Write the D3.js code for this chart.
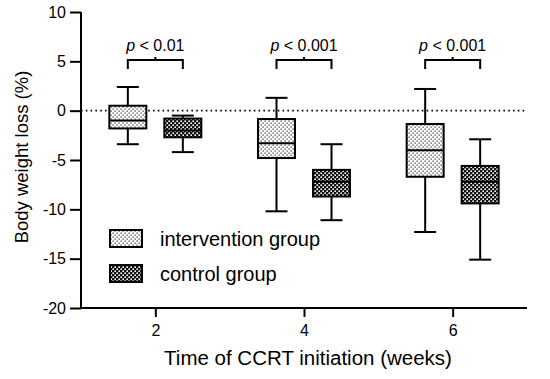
<!DOCTYPE html>
<html>
<head>
<meta charset="utf-8">
<script src="https://cdn.jsdelivr.net/npm/d3@7"></script>
<style>
  body { margin: 0; background: #fff; }
  svg { display: block; font-family: Arial, "Liberation Sans", sans-serif; }
</style>
</head>
<body>
<svg id="chart" width="550" height="379"></svg>
<script>
// ---- data ----
const weeks = [2, 4, 6];
const groups = ["intervention group", "control group"];
// [whiskerLow, Q1, median, Q3, whiskerHigh]
const interventionStats = [
  [-3.4, -1.8, -1.0, 0.5, 2.4],
  [-10.2, -4.8, -3.3, -0.85, 1.3],
  [-12.3, -6.7, -4.0, -1.35, 2.2]
];
const controlStats = [
  [-4.2, -2.7, -2.0, -0.8, -0.5],
  [-11.1, -8.7, -7.2, -6.0, -3.4],
  [-15.1, -9.4, -7.2, -5.6, -2.9]
];
const pLabels = ["< 0.01", "< 0.001", "< 0.001"];
const yTicks = [10, 5, 0, -5, -10, -15, -20];
const xTicks = [2, 4, 6];

// ---- layout ----
const svg = d3.select("#chart");
const x = d3.scaleLinear().domain([1, 7]).range([81, 527]);
const y = d3.scaleLinear().domain([-20, 10]).range([308, 12]);
const offset = 27.5, boxW = 37, capW = 11;

// patterns
const defs = svg.append("defs");
const p1 = defs.append("pattern").attr("id", "dots").attr("patternUnits", "userSpaceOnUse")
  .attr("width", 4).attr("height", 4);
p1.append("rect").attr("width", 4).attr("height", 4).attr("fill", "#fff");
p1.append("rect").attr("x", 0.5).attr("y", 0.5).attr("width", 1.2).attr("height", 1.2).attr("fill", "#222");
p1.append("rect").attr("x", 2.5).attr("y", 2.5).attr("width", 1.2).attr("height", 1.2).attr("fill", "#222");

const p2 = defs.append("pattern").attr("id", "checks").attr("patternUnits", "userSpaceOnUse")
  .attr("width", 4).attr("height", 4);
p2.append("rect").attr("width", 4).attr("height", 4).attr("fill", "#111");
p2.append("rect").attr("x", 0.4).attr("y", 0.4).attr("width", 1.6).attr("height", 1.6).attr("fill", "#fff");
p2.append("rect").attr("x", 2.4).attr("y", 2.4).attr("width", 1.6).attr("height", 1.6).attr("fill", "#fff");

const fills = ["url(#dots)", "url(#checks)"];

// zero line
svg.append("line")
  .attr("x1", x(1)).attr("x2", x(7)).attr("y1", y(0)).attr("y2", y(0))
  .attr("stroke", "#000").attr("stroke-width", 1.6).attr("stroke-dasharray", "1.6,3.2");

// axes
const yAxis = d3.axisLeft(y).tickValues(yTicks).tickSize(11).tickPadding(4).tickFormat(d => String(d));
const gy = svg.append("g").attr("transform", `translate(${x(1)},0)`).call(yAxis);
const xAxis = d3.axisBottom(x).tickValues(xTicks).tickSize(9).tickPadding(8).tickFormat(d => String(d));
const gx = svg.append("g").attr("transform", `translate(0,${y(-20)})`).call(xAxis);
[gy, gx].forEach(g => {
  g.select(".domain").attr("stroke-width", 2);
  g.selectAll(".tick line").attr("stroke-width", 2);
  g.selectAll(".tick text").attr("font-size", 16).attr("fill", "#000")
    .attr("font-family", "Arial, 'Liberation Sans', sans-serif");
});
gy.select(".domain").attr("d", `M0,${y(10)}V${y(-20)}`);
gx.select(".domain").attr("d", `M${x(1)},0H${x(7)}`);

// titles
svg.append("text").attr("x", 308).attr("y", 365).attr("text-anchor", "middle")
  .attr("font-size", 20.5).text("Time of CCRT initiation (weeks)");
svg.append("text").attr("transform", `translate(28,157) rotate(-90)`).attr("text-anchor", "middle")
  .attr("font-size", 18.5).text("Body weight loss (%)");

// boxes
function drawBox(stats, cx, fill) {
  const g = svg.append("g").attr("stroke", "#000").attr("stroke-width", 2);
  const [lo, q1, med, q3, hi] = stats;
  g.append("line").attr("x1", cx).attr("x2", cx).attr("y1", y(hi)).attr("y2", y(q3));
  g.append("line").attr("x1", cx).attr("x2", cx).attr("y1", y(q1)).attr("y2", y(lo));
  g.append("line").attr("x1", cx - capW).attr("x2", cx + capW).attr("y1", y(hi)).attr("y2", y(hi));
  g.append("line").attr("x1", cx - capW).attr("x2", cx + capW).attr("y1", y(lo)).attr("y2", y(lo));
  g.append("rect").attr("x", cx - boxW / 2).attr("width", boxW)
    .attr("y", y(q3)).attr("height", y(q1) - y(q3)).attr("fill", fill);
  g.append("line").attr("x1", cx - boxW / 2).attr("x2", cx + boxW / 2).attr("y1", y(med)).attr("y2", y(med));
}
weeks.forEach((w, i) => {
  drawBox(interventionStats[i], x(w) - offset, fills[0]);
  drawBox(controlStats[i], x(w) + offset, fills[1]);
  // bracket
  const bx1 = x(w) - offset, bx2 = x(w) + offset, by = 60;
  svg.append("path")
    .attr("d", `M${bx1},${by + 9}V${by}H${bx2}V${by + 9}M${x(w)},${by}V${by - 3}`)
    .attr("fill", "none").attr("stroke", "#000").attr("stroke-width", 2);
  const t = svg.append("text").attr("x", x(w)).attr("y", 51).attr("text-anchor", "middle").attr("font-size", 16);
  t.append("tspan").attr("font-style", "italic").text("p");
  t.append("tspan").text(" " + pLabels[i]);
});

// legend
groups.forEach((gname, i) => {
  const ly = 230 + i * 35;
  svg.append("rect").attr("x", 110).attr("y", ly).attr("width", 32).attr("height", 17)
    .attr("fill", fills[i]).attr("stroke", "#000").attr("stroke-width", 2);
  svg.append("text").attr("x", 160).attr("y", ly + 16).attr("font-size", 20).text(gname);
});
</script>
</body>
</html>
